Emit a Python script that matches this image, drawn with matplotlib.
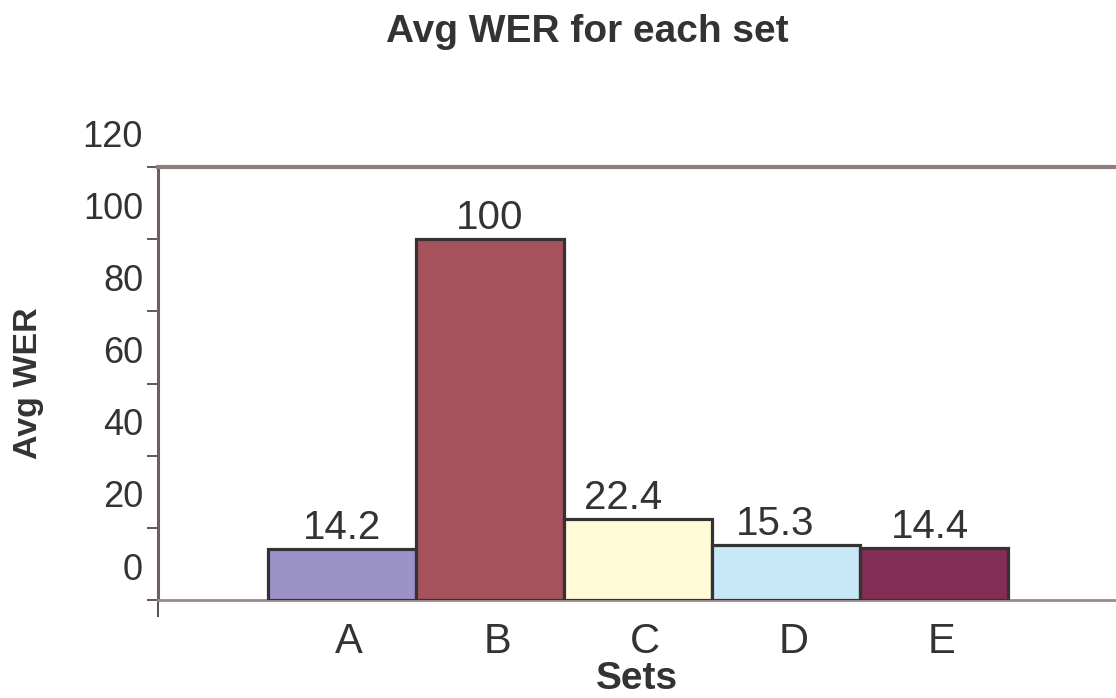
import numpy as np
import matplotlib.pyplot as plt
from matplotlib import transforms

plt.rcParams['font.family'] = ['Liberation Sans', 'DejaVu Sans']

sets = ['A', 'B', 'C', 'D', 'E']
avg_wer = [14.2, 100, 22.4, 15.3, 14.4]
bar_colors = ['#9b93c8', '#a5525d', '#fffad8', '#c8e8f8', '#832d55']
yticks = [0, 20, 40, 60, 80, 100, 120]

fig = plt.figure(figsize=(11.16, 6.98), dpi=100)
ax = fig.add_axes([0.1416, 0.1404, 0.8584, 0.6203])

x = np.arange(len(sets))
ax.bar(x, avg_wer, width=1.0, color=bar_colors, edgecolor='#333333',
       linewidth=2.3, zorder=3)

# value labels, nudged a little left on the lower bars
nudge = [0.0, 0.0, -0.1, -0.07, -0.03]
for xi, v, dx in zip(x, avg_wer, nudge):
    ax.text(xi + dx, v + 0.6, f'{v:g}', ha='center', va='bottom',
            fontsize=29, color='#333333')

ax.set_xlim(-1.24, 5.23)
ax.set_ylim(0, 120)

# y tick labels sit above their tick marks
ax.set_yticks(yticks)
ax.set_yticklabels([])
ax.tick_params(axis='y', length=8, width=1.2, color='#4a3a3a')
shift = transforms.ScaledTranslation(-0.15, 0.30, fig.dpi_scale_trans)
for t in yticks:
    ax.text(0, t, str(t), transform=ax.get_yaxis_transform() + shift,
            ha='right', va='center', fontsize=26, color='#333333')

ax.set_xticks(x + 0.05)
ax.set_xticklabels(sets, fontsize=30, color='#333333')
ax.tick_params(axis='x', length=0, pad=16)
ax.set_xticks([-1.24], minor=True)
ax.tick_params(axis='x', which='minor', length=12, width=1.2, color='#333333')

ax.spines['right'].set_visible(False)
ax.spines['top'].set_color('#8c7f7c')
ax.spines['top'].set_linewidth(3)
ax.spines['left'].set_color('#6e5e5e')
ax.spines['left'].set_linewidth(2.2)
ax.spines['bottom'].set_color('#9a8a8a')
ax.spines['bottom'].set_linewidth(2)

ax.set_xlabel('Sets', fontsize=28, fontweight='bold', color='#333333', labelpad=-1)
ax.set_ylabel('Avg WER', fontsize=24.5, fontweight='bold', color='#333333')
ax.yaxis.set_label_coords(-0.119, 0.5)

fig.suptitle('Avg WER for each set', fontsize=28, fontweight='bold',
             color='#333333', x=0.526, y=0.98)

fig.savefig('out.png', dpi=100)
